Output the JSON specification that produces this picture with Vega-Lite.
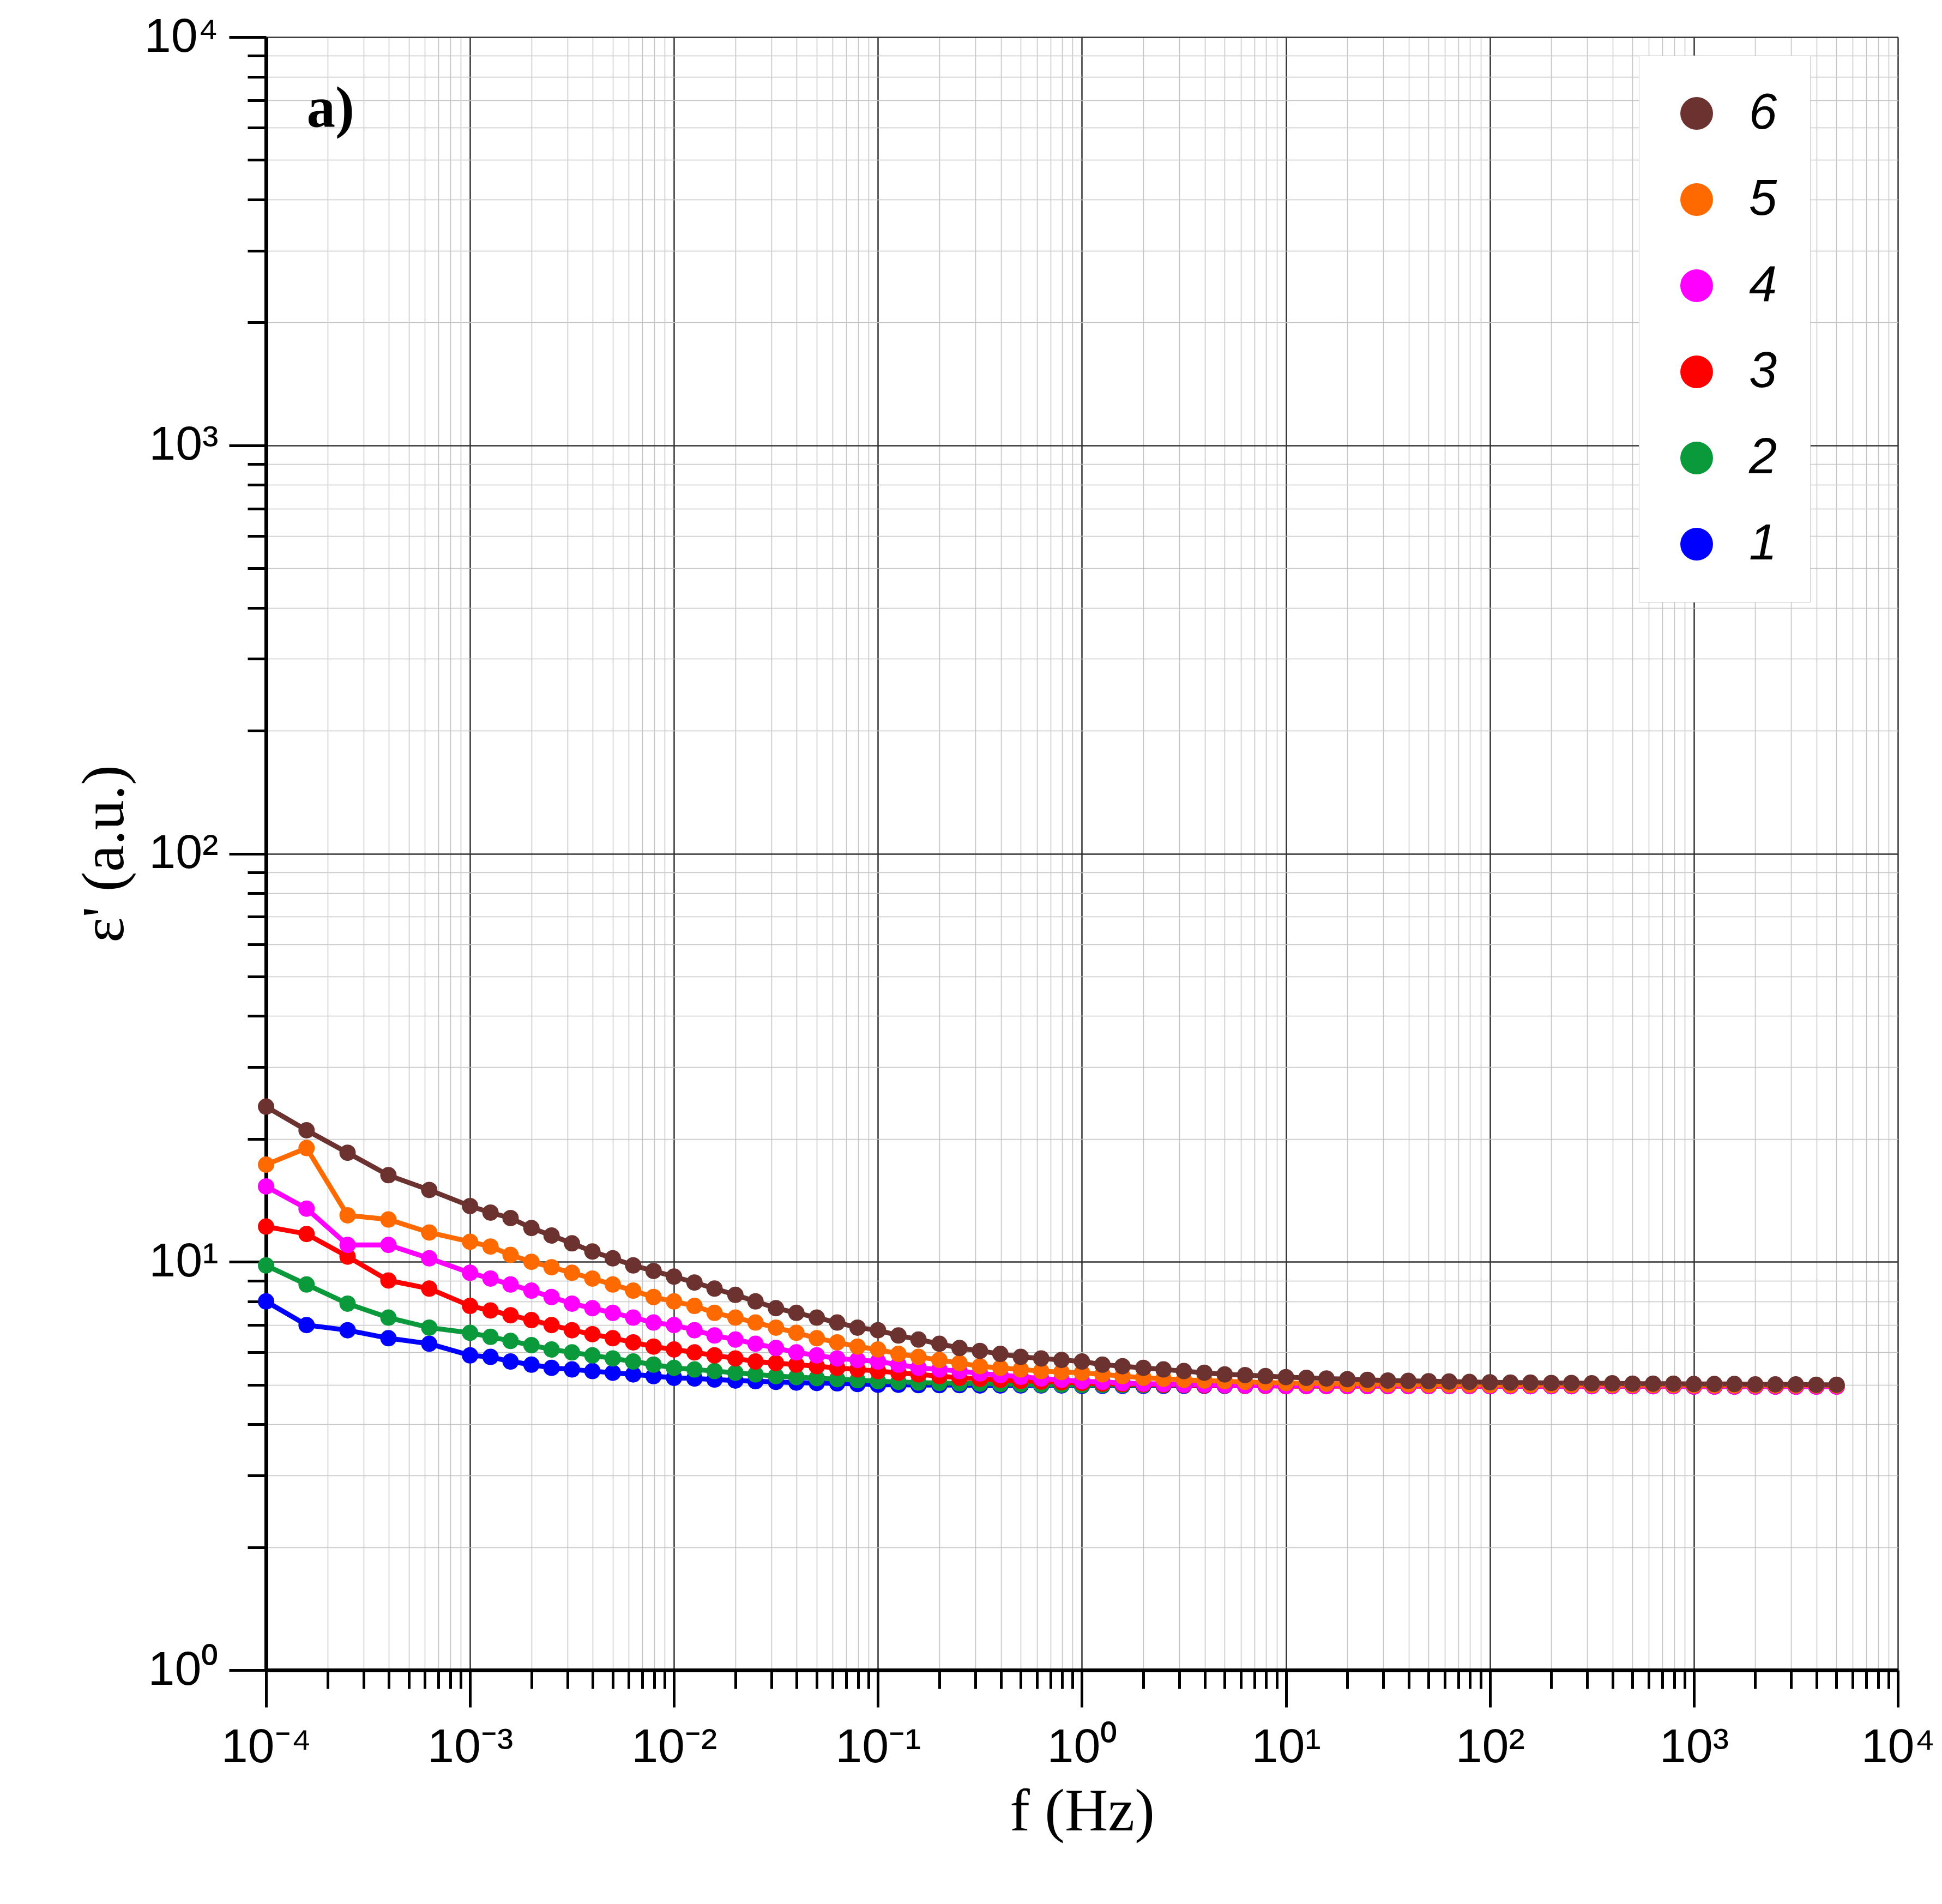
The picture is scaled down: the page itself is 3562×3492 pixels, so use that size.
{
  "$schema": "https://vega.github.io/schema/vega-lite/v6.json",
  "autosize": "none",
  "width": 2993,
  "height": 2995,
  "padding": {"left": 488, "top": 68, "right": 81, "bottom": 429},
  "background": "white",
  "config": {
    "view": {"stroke": null},
    "font": "Liberation Sans",
    "axis": {
      "domainColor": "black",
      "domainWidth": 7,
      "tickColor": "black",
      "tickWidth": 5,
      "labelFont": "Liberation Sans",
      "labelFontSize": 88,
      "labelColor": "black",
      "titleFont": "Liberation Serif",
      "titleFontSize": 110,
      "titleFontWeight": "normal",
      "titleColor": "black",
      "gridColor": {"condition": {"test": "abs(log(datum.value)/LN10 - round(log(datum.value)/LN10)) < 0.001", "value": "#333333"}, "value": "#c4c4c4"},
      "gridWidth": {"condition": {"test": "abs(log(datum.value)/LN10 - round(log(datum.value)/LN10)) < 0.001", "value": 2.5}, "value": 1.5},
      "tickSize": {"condition": {"test": "abs(log(datum.value)/LN10 - round(log(datum.value)/LN10)) < 0.001", "value": 68}, "value": 34},
      "labelExpr": "abs(log(datum.value)/LN10 - round(log(datum.value)/LN10)) < 0.001 ? '10' + ['⁻⁴','⁻³','⁻²','⁻¹','⁰','¹','²','³','⁴'][round(log(datum.value)/LN10)+4] : ''"
    }
  },
  "data": {"values": [
    {"f":0.0001,"s1":8.0,"s2":9.8,"s3":12.2,"s4":15.3,"s5":17.3,"s6":24},
    {"f":0.000158,"s1":7.0,"s2":8.8,"s3":11.7,"s4":13.5,"s5":19,"s6":21},
    {"f":0.000251,"s1":6.8,"s2":7.9,"s3":10.3,"s4":11,"s5":13,"s6":18.5},
    {"f":0.000398,"s1":6.5,"s2":7.3,"s3":9.0,"s4":11,"s5":12.7,"s6":16.3},
    {"f":0.000631,"s1":6.3,"s2":6.9,"s3":8.6,"s4":10.2,"s5":11.8,"s6":15},
    {"f":0.001,"s1":5.9,"s2":6.7,"s3":7.8,"s4":9.4,"s5":11.2,"s6":13.7},
    {"f":0.00126,"s1":5.85,"s2":6.55,"s3":7.6,"s4":9.1,"s5":10.9,"s6":13.2},
    {"f":0.00158,"s1":5.7,"s2":6.4,"s3":7.4,"s4":8.8,"s5":10.4,"s6":12.8},
    {"f":0.002,"s1":5.6,"s2":6.25,"s3":7.2,"s4":8.5,"s5":10.0,"s6":12.1},
    {"f":0.00251,"s1":5.5,"s2":6.1,"s3":7.0,"s4":8.2,"s5":9.7,"s6":11.6},
    {"f":0.00316,"s1":5.45,"s2":6.0,"s3":6.8,"s4":7.9,"s5":9.4,"s6":11.1},
    {"f":0.00398,"s1":5.4,"s2":5.9,"s3":6.65,"s4":7.7,"s5":9.1,"s6":10.6},
    {"f":0.00501,"s1":5.35,"s2":5.8,"s3":6.5,"s4":7.5,"s5":8.8,"s6":10.2},
    {"f":0.00631,"s1":5.3,"s2":5.7,"s3":6.35,"s4":7.3,"s5":8.5,"s6":9.8},
    {"f":0.00794,"s1":5.25,"s2":5.6,"s3":6.2,"s4":7.1,"s5":8.2,"s6":9.5},
    {"f":0.01,"s1":5.2,"s2":5.5,"s3":6.1,"s4":7.0,"s5":8.0,"s6":9.2},
    {"f":0.0126,"s1":5.18,"s2":5.45,"s3":6.0,"s4":6.8,"s5":7.8,"s6":8.9},
    {"f":0.0158,"s1":5.15,"s2":5.4,"s3":5.9,"s4":6.6,"s5":7.5,"s6":8.6},
    {"f":0.02,"s1":5.12,"s2":5.35,"s3":5.8,"s4":6.45,"s5":7.3,"s6":8.3},
    {"f":0.0251,"s1":5.1,"s2":5.3,"s3":5.7,"s4":6.3,"s5":7.1,"s6":8.0},
    {"f":0.0316,"s1":5.08,"s2":5.25,"s3":5.65,"s4":6.15,"s5":6.9,"s6":7.7},
    {"f":0.0398,"s1":5.06,"s2":5.22,"s3":5.6,"s4":6.0,"s5":6.7,"s6":7.5},
    {"f":0.0501,"s1":5.05,"s2":5.19,"s3":5.55,"s4":5.9,"s5":6.5,"s6":7.3},
    {"f":0.0631,"s1":5.04,"s2":5.16,"s3":5.5,"s4":5.8,"s5":6.35,"s6":7.1},
    {"f":0.0794,"s1":5.02,"s2":5.13,"s3":5.45,"s4":5.75,"s5":6.2,"s6":6.9},
    {"f":0.1,"s1":5.0,"s2":5.1,"s3":5.4,"s4":5.7,"s5":6.1,"s6":6.8},
    {"f":0.126,"s1":5.0,"s2":5.08,"s3":5.35,"s4":5.6,"s5":5.95,"s6":6.6},
    {"f":0.158,"s1":4.99,"s2":5.06,"s3":5.3,"s4":5.5,"s5":5.85,"s6":6.45},
    {"f":0.2,"s1":4.99,"s2":5.05,"s3":5.25,"s4":5.45,"s5":5.75,"s6":6.3},
    {"f":0.251,"s1":4.99,"s2":5.04,"s3":5.2,"s4":5.4,"s5":5.65,"s6":6.15},
    {"f":0.316,"s1":4.98,"s2":5.03,"s3":5.17,"s4":5.33,"s5":5.55,"s6":6.05},
    {"f":0.398,"s1":4.98,"s2":5.02,"s3":5.14,"s4":5.28,"s5":5.5,"s6":5.95},
    {"f":0.501,"s1":4.98,"s2":5.01,"s3":5.11,"s4":5.23,"s5":5.45,"s6":5.85},
    {"f":0.631,"s1":4.98,"s2":5.0,"s3":5.09,"s4":5.18,"s5":5.4,"s6":5.8},
    {"f":0.794,"s1":4.98,"s2":5.0,"s3":5.07,"s4":5.14,"s5":5.37,"s6":5.75},
    {"f":1,"s1":4.97,"s2":4.99,"s3":5.05,"s4":5.1,"s5":5.35,"s6":5.7},
    {"f":1.26,"s1":4.97,"s2":4.99,"s3":5.03,"s4":5.08,"s5":5.3,"s6":5.6},
    {"f":1.58,"s1":4.97,"s2":4.99,"s3":5.02,"s4":5.05,"s5":5.25,"s6":5.55},
    {"f":2,"s1":4.97,"s2":4.99,"s3":5.01,"s4":5.03,"s5":5.2,"s6":5.5},
    {"f":2.51,"s1":4.97,"s2":4.99,"s3":5.0,"s4":5.02,"s5":5.17,"s6":5.45},
    {"f":3.16,"s1":4.97,"s2":4.99,"s3":4.99,"s4":5.0,"s5":5.14,"s6":5.4},
    {"f":3.98,"s1":4.97,"s2":4.99,"s3":4.98,"s4":5.0,"s5":5.12,"s6":5.35},
    {"f":5.01,"s1":4.97,"s2":4.99,"s3":4.98,"s4":4.99,"s5":5.1,"s6":5.3},
    {"f":6.31,"s1":4.97,"s2":4.99,"s3":4.97,"s4":4.98,"s5":5.08,"s6":5.28},
    {"f":7.94,"s1":4.97,"s2":4.99,"s3":4.97,"s4":4.98,"s5":5.06,"s6":5.25},
    {"f":10,"s1":4.97,"s2":4.98,"s3":4.96,"s4":4.97,"s5":5.05,"s6":5.22},
    {"f":12.6,"s1":4.97,"s2":4.98,"s3":4.96,"s4":4.97,"s5":5.04,"s6":5.2},
    {"f":15.8,"s1":4.97,"s2":4.98,"s3":4.96,"s4":4.97,"s5":5.03,"s6":5.18},
    {"f":20,"s1":4.97,"s2":4.98,"s3":4.96,"s4":4.97,"s5":5.02,"s6":5.16},
    {"f":25.1,"s1":4.97,"s2":4.98,"s3":4.96,"s4":4.97,"s5":5.02,"s6":5.14},
    {"f":31.6,"s1":4.97,"s2":4.98,"s3":4.96,"s4":4.97,"s5":5.01,"s6":5.12},
    {"f":39.8,"s1":4.97,"s2":4.98,"s3":4.96,"s4":4.97,"s5":5.01,"s6":5.11},
    {"f":50.1,"s1":4.97,"s2":4.98,"s3":4.96,"s4":4.97,"s5":5.0,"s6":5.1},
    {"f":63.1,"s1":4.97,"s2":4.98,"s3":4.96,"s4":4.97,"s5":5.0,"s6":5.09},
    {"f":79.4,"s1":4.97,"s2":4.98,"s3":4.96,"s4":4.97,"s5":5.0,"s6":5.08},
    {"f":100,"s1":4.96,"s2":4.97,"s3":4.96,"s4":4.96,"s5":4.99,"s6":5.07},
    {"f":126,"s1":4.96,"s2":4.97,"s3":4.96,"s4":4.96,"s5":4.99,"s6":5.06},
    {"f":158,"s1":4.96,"s2":4.97,"s3":4.96,"s4":4.96,"s5":4.99,"s6":5.06},
    {"f":200,"s1":4.96,"s2":4.97,"s3":4.96,"s4":4.96,"s5":4.99,"s6":5.05},
    {"f":251,"s1":4.96,"s2":4.97,"s3":4.96,"s4":4.96,"s5":4.99,"s6":5.05},
    {"f":316,"s1":4.96,"s2":4.97,"s3":4.96,"s4":4.96,"s5":4.99,"s6":5.04},
    {"f":398,"s1":4.96,"s2":4.97,"s3":4.96,"s4":4.96,"s5":4.99,"s6":5.04},
    {"f":501,"s1":4.96,"s2":4.97,"s3":4.96,"s4":4.96,"s5":4.99,"s6":5.03},
    {"f":631,"s1":4.96,"s2":4.97,"s3":4.96,"s4":4.96,"s5":4.99,"s6":5.03},
    {"f":794,"s1":4.96,"s2":4.97,"s3":4.96,"s4":4.96,"s5":4.99,"s6":5.03},
    {"f":1000,"s1":4.95,"s2":4.96,"s3":4.95,"s4":4.95,"s5":4.98,"s6":5.02},
    {"f":1260,"s1":4.95,"s2":4.96,"s3":4.95,"s4":4.95,"s5":4.98,"s6":5.02},
    {"f":1580,"s1":4.95,"s2":4.96,"s3":4.95,"s4":4.95,"s5":4.98,"s6":5.02},
    {"f":2000,"s1":4.95,"s2":4.96,"s3":4.95,"s4":4.95,"s5":4.98,"s6":5.01},
    {"f":2510,"s1":4.95,"s2":4.96,"s3":4.95,"s4":4.95,"s5":4.98,"s6":5.01},
    {"f":3160,"s1":4.95,"s2":4.96,"s3":4.95,"s4":4.95,"s5":4.98,"s6":5.01},
    {"f":3980,"s1":4.95,"s2":4.96,"s3":4.95,"s4":4.95,"s5":4.98,"s6":5.0},
    {"f":5010,"s1":4.95,"s2":4.96,"s3":4.95,"s4":4.95,"s5":4.98,"s6":5.0}
  ]},
  "layer": [
    {
      "transform": [{"fold": ["s1", "s2", "s3", "s4", "s5", "s6"], "as": ["series", "eps"]}],
      "encoding": {
        "x": {
          "field": "f", "type": "quantitative",
          "scale": {"type": "log", "domain": [0.0001, 10000], "nice": false},
          "title": "f (Hz)",
          "axis": {
            "values": [0.0001,0.0002,0.0003,0.0004,0.0005,0.0006,0.0007,0.0008,0.0009,0.001,0.002,0.003,0.004,0.005,0.006,0.007,0.008,0.009,0.01,0.02,0.03,0.04,0.05,0.06,0.07,0.08,0.09,0.1,0.2,0.3,0.4,0.5,0.6,0.7,0.8,0.9,1,2,3,4,5,6,7,8,9,10,20,30,40,50,60,70,80,90,100,200,300,400,500,600,700,800,900,1000,2000,3000,4000,5000,6000,7000,8000,9000,10000],
            "labelPadding": 30,
            "labelOverlap": false,
            "labelFlush": false,
            "titlePadding": 20
          }
        },
        "y": {
          "field": "eps", "type": "quantitative",
          "scale": {"type": "log", "domain": [1, 10000], "nice": false},
          "title": "ε' (a.u.)",
          "axis": {
            "values": [1,2,3,4,5,6,7,8,9,10,20,30,40,50,60,70,80,90,100,200,300,400,500,600,700,800,900,1000,2000,3000,4000,5000,6000,7000,8000,9000,10000],
            "labelPadding": 20,
            "labelOverlap": false,
            "labelFlush": false,
            "titlePadding": 40
          }
        },
        "color": {
          "field": "series", "type": "nominal",
          "scale": {
            "domain": ["s6", "s5", "s4", "s3", "s2", "s1"],
            "range": ["#6B3230", "#FF6A00", "#FF00FF", "#FF0000", "#0A9A3C", "#0000FF"]
          },
          "legend": {
            "title": null,
            "orient": "none",
            "legendX": 2518,
            "legendY": 34,
            "labelExpr": "replace(datum.label, 's', '')",
            "labelFont": "Liberation Sans",
            "labelFontStyle": "italic",
            "labelFontSize": 92,
            "labelColor": "black",
            "labelOffset": 50,
            "symbolType": "circle",
            "symbolSize": 3600,
            "symbolOpacity": 1,
            "symbolStrokeWidth": 0,
            "rowPadding": 66,
            "padding": 60,
            "strokeColor": "#cccccc",
            "fillColor": "white"
          }
        },
        "order": {"field": "f", "type": "quantitative"}
      },
      "layer": [
        {"mark": {"type": "line", "strokeWidth": 9}},
        {"mark": {"type": "point", "filled": true, "opacity": 1, "size": 900}}
      ]
    },
    {
      "data": {"values": [{"f": 0.000207, "eps": 6670, "label": "a)"}]},
      "mark": {"type": "text", "font": "Liberation Serif", "fontWeight": "bold", "fontSize": 105, "color": "black"},
      "encoding": {
        "x": {"field": "f", "type": "quantitative"},
        "y": {"field": "eps", "type": "quantitative"},
        "text": {"field": "label"}
      }
    }
  ]
}
